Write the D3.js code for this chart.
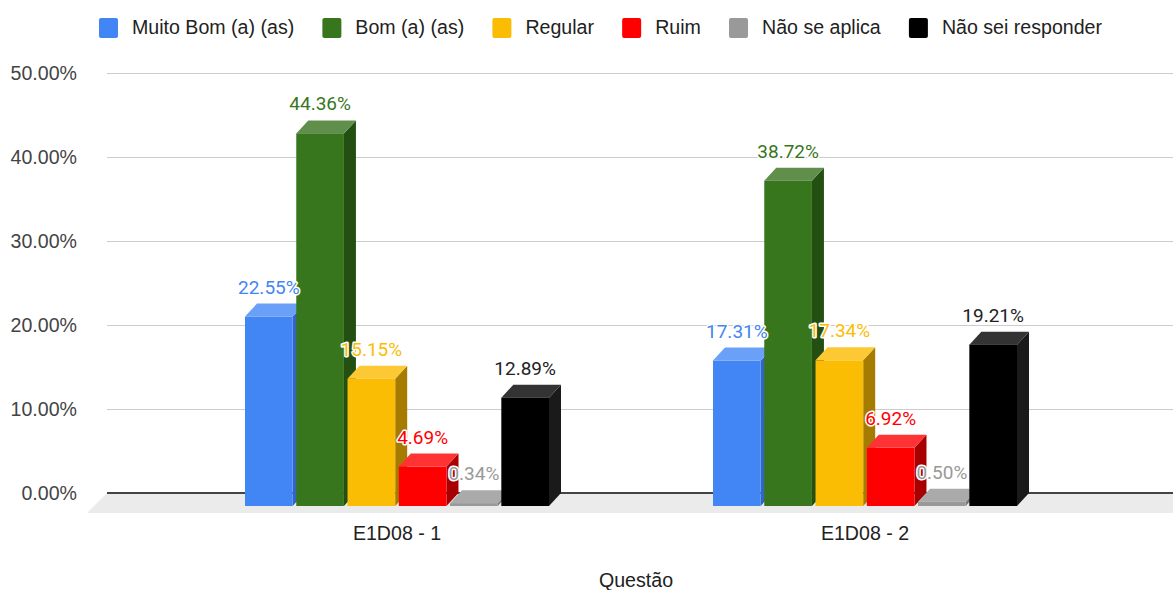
<!DOCTYPE html>
<html>
<head>
<meta charset="utf-8">
<script src="https://cdn.jsdelivr.net/npm/d3@7"></script>
<style>
  html, body { margin: 0; padding: 0; background: #fff; }
  svg { display: block; }
</style>
</head>
<body>
<svg id="chart" width="1173" height="590"></svg>
<script>
// ---------- DATA ----------
const categories = ["E1D08 - 1", "E1D08 - 2"];
const seriesNames = ["Muito Bom (a) (as)", "Bom (a) (as)", "Regular", "Ruim", "Não se aplica", "Não sei responder"];
const muitoBom = [22.55, 17.31];
const bom = [44.36, 38.72];
const regular = [15.15, 17.34];
const ruim = [4.69, 6.92];
const naoSeAplica = [0.34, 0.50];
const naoSeiResponder = [12.89, 19.21];
const yTicks = [0, 10, 20, 30, 40, 50];
const yTickLabels = ["0.00%", "10.00%", "20.00%", "30.00%", "40.00%", "50.00%"];
const axisTitle = "Questão";

const seriesValues = [muitoBom, bom, regular, ruim, naoSeAplica, naoSeiResponder];

// ---------- STYLE ----------
const colors = ["#4285f4", "#38761d", "#fbbc04", "#ff0000", "#999999", "#000000"];
const topColors = ["#6aa0f7", "#5f8f4b", "#fcc934", "#ff3333", "#aaaaaa", "#333333"];
const sideColors = ["#3565c2", "#244f12", "#a67c00", "#a80000", "#7a7a7a", "#1a1a1a"];
const labelColors = ["#4285f4", "#38761d", "#fbbc04", "#ff0000", "#999999", "#222222"];
const FONT = "Liberation Sans, Arial, sans-serif";
const FS = 19.6;

const svg = d3.select("#chart");

const plotLeft = 107, plotRight = 1173;
const y = d3.scaleLinear().domain([0, 50]).range([493, 73]);
const depthX = 12, depthY = 13;   // bar 3D offset (front = back shifted left/down)
const floorD = 20;

const x0 = d3.scaleBand().domain(categories).range([175, 1111]);
const groupW = 304;
const x1 = d3.scaleBand().domain(seriesNames).range([0, groupW]).paddingInner(0.07);
const groupOff = (x0.bandwidth() - groupW) / 2;

// gridlines
svg.append("g").selectAll("line").data(yTicks.filter(d => d !== 0)).join("line")
  .attr("x1", plotLeft).attr("x2", plotRight)
  .attr("y1", d => y(d) + 0.5).attr("y2", d => y(d) + 0.5)
  .attr("stroke", "#cccccc").attr("stroke-width", 1);

// y tick labels
svg.append("g").selectAll("text").data(yTicks).join("text")
  .attr("x", 77).attr("y", d => y(d) + 7)
  .attr("text-anchor", "end")
  .attr("font-family", FONT)
  .attr("font-size", FS).attr("fill", "#444")
  .text((d, i) => yTickLabels[i]);

// floor
svg.append("path")
  .attr("d", `M${plotLeft},${y(0)} L${plotRight + 20},${y(0)} L${plotRight},${y(0) + floorD} L${plotLeft - floorD},${y(0) + floorD} Z`)
  .attr("fill", "#ebebeb");

// baseline
svg.append("line")
  .attr("x1", plotLeft).attr("x2", plotRight)
  .attr("y1", y(0)).attr("y2", y(0))
  .attr("stroke", "#444").attr("stroke-width", 2);

// bars
const bars = [];
categories.forEach((c, ci) => {
  seriesNames.forEach((s, si) => {
    bars.push({ c, s, si, v: seriesValues[si][ci] });
  });
});

const barsG = svg.append("g");
bars.forEach(b => {
  const bx = x0(b.c) + groupOff + x1(b.s);   // back-left x
  const bw = x1.bandwidth();
  const yb = y(b.v), y0 = y(0);
  const fx = bx - depthX, fy0 = y0 + depthY, fyt = yb + depthY;
  const g = barsG.append("g");
  g.append("path")
    .attr("d", `M${fx + bw},${fyt} L${bx + bw},${yb} L${bx + bw},${y0} L${fx + bw},${fy0} Z`)
    .attr("fill", sideColors[b.si]);
  g.append("path")
    .attr("d", `M${fx},${fyt} L${bx},${yb} L${bx + bw},${yb} L${fx + bw},${fyt} Z`)
    .attr("fill", topColors[b.si]);
  g.append("rect")
    .attr("x", fx).attr("y", fyt)
    .attr("width", bw).attr("height", fy0 - fyt)
    .attr("fill", colors[b.si]);
});

// data labels
svg.append("g").selectAll("text").data(bars).join("text")
  .attr("x", d => x0(d.c) + groupOff + x1(d.s) - depthX + x1.bandwidth() / 2)
  .attr("y", d => y(d.v) + depthY - 23)
  .attr("text-anchor", "middle")
  .attr("font-family", "Roboto, sans-serif")
  .attr("font-size", 19)
  .attr("fill", d => labelColors[d.si])
  .attr("stroke", "#fff").attr("stroke-width", 3).attr("stroke-linejoin", "round")
  .attr("paint-order", "stroke")
  .text(d => d.v.toFixed(2) + "%");

// category labels
svg.append("g").selectAll("text").data(categories).join("text")
  .attr("x", d => x0(d) + x0.bandwidth() / 2 - depthX)
  .attr("y", 540)
  .attr("text-anchor", "middle")
  .attr("font-family", FONT)
  .attr("font-size", FS).attr("fill", "#222")
  .text(d => d);

// axis title
svg.append("text")
  .attr("x", 636).attr("y", 587)
  .attr("text-anchor", "middle")
  .attr("font-family", FONT)
  .attr("font-size", FS).attr("fill", "#222")
  .text(axisTitle);

// legend
const legend = svg.append("g");
const tmp = legend.append("text").attr("font-family", FONT).attr("font-size", FS);
const widths = seriesNames.map(n => { tmp.text(n); return tmp.node().getComputedTextLength(); });
tmp.remove();
const sq = 19, gapSqText = 14;
const lastEnd = 1102, firstStart = 99;
const gapItem = (lastEnd - firstStart - d3.sum(widths) - seriesNames.length * (sq + gapSqText)) / (seriesNames.length - 1);
let lx = firstStart;
seriesNames.forEach((n, i) => {
  legend.append("rect").attr("x", lx).attr("y", 18).attr("width", sq).attr("height", 20)
    .attr("rx", 2).attr("fill", colors[i]);
  legend.append("text").attr("x", lx + sq + gapSqText).attr("y", 34)
    .attr("font-family", FONT).attr("font-size", FS).attr("fill", "#222")
    .text(n);
  lx += sq + gapSqText + widths[i] + gapItem;
});
</script>
</body>
</html>
